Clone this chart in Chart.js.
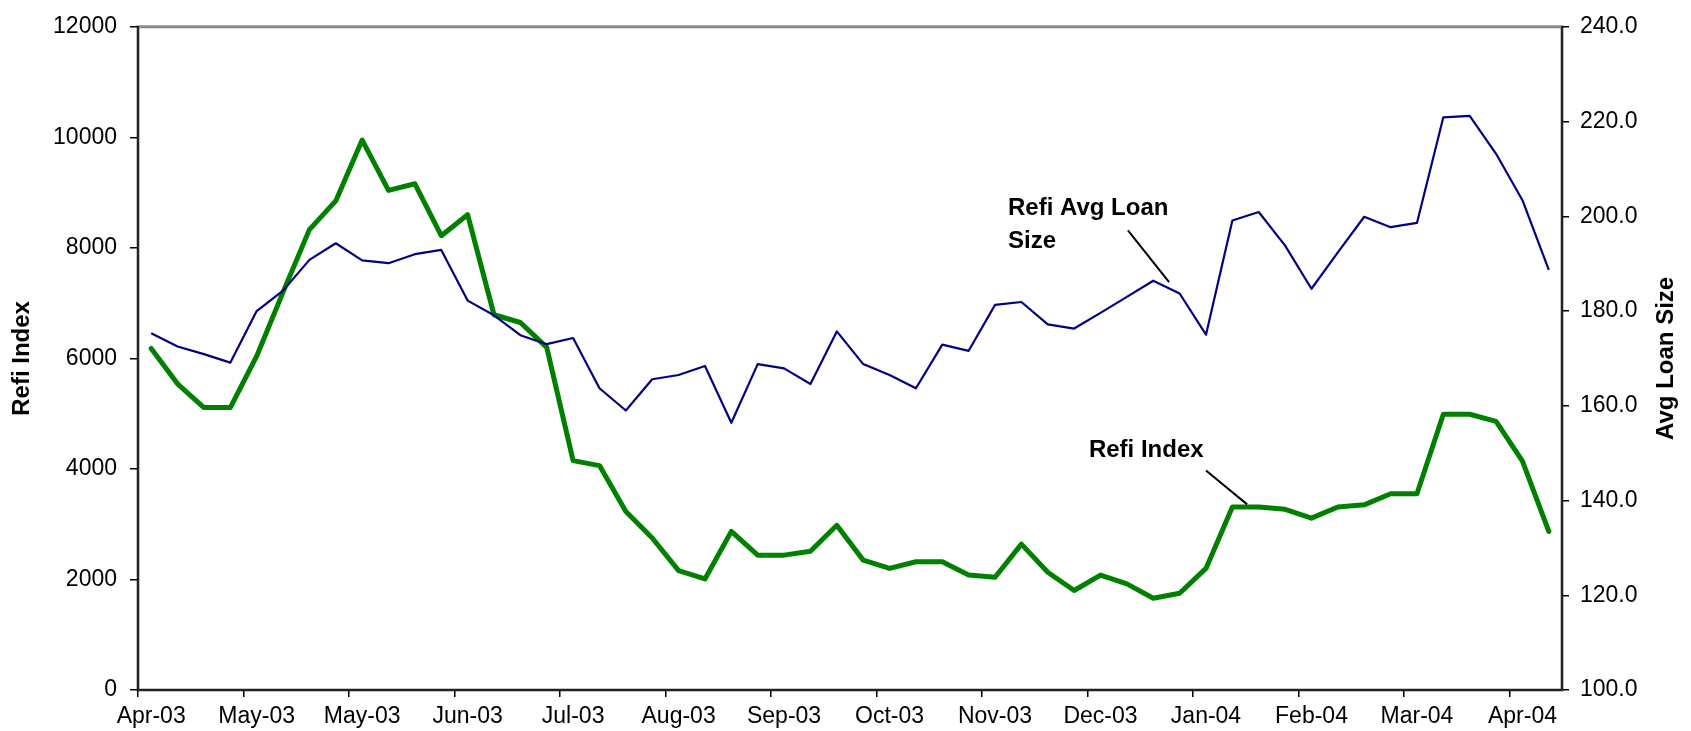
<!DOCTYPE html>
<html>
<head>
<meta charset="utf-8">
<script src="https://cdn.jsdelivr.net/npm/chart.js@4.4.1/dist/chart.umd.min.js"></script>
<style>
html,body{margin:0;padding:0;background:#ffffff;}
#wrap{width:1691px;height:731px;position:relative;}
</style>
</head>
<body>
<div id="wrap"><canvas id="c"></canvas></div>
<script>
// ---- data ----
const categories = [
  '04/04/03','04/11/03','04/18/03','04/25/03',
  '05/02/03','05/09/03','05/16/03','05/23/03','05/30/03',
  '06/06/03','06/13/03','06/20/03','06/27/03',
  '07/04/03','07/11/03','07/18/03','07/25/03',
  '08/01/03','08/08/03','08/15/03','08/22/03','08/29/03',
  '09/05/03','09/12/03','09/19/03','09/26/03',
  '10/03/03','10/10/03','10/17/03','10/24/03','10/31/03',
  '11/07/03','11/14/03','11/21/03','11/28/03',
  '12/05/03','12/12/03','12/19/03','12/26/03',
  '01/02/04','01/09/04','01/16/04','01/23/04','01/30/04',
  '02/06/04','02/13/04','02/20/04','02/27/04',
  '03/05/04','03/12/04','03/19/04','03/26/04',
  '04/02/04','04/09/04'
];
const tickLabels = ['Apr-03','May-03','May-03','Jun-03','Jul-03','Aug-03','Sep-03',
                    'Oct-03','Nov-03','Dec-03','Jan-04','Feb-04','Mar-04','Apr-04'];
const tickEvery = 4;

const refiIndex = [6180,5540,5110,5110,6040,7200,8330,8850,9950,9040,9160,8220,8600,
  6790,6650,6200,4150,4060,3230,2750,2160,2010,2870,2440,2440,2510,2980,2350,2200,
  2320,2320,2080,2040,2640,2130,1800,2080,1920,1660,1750,2200,3310,3310,3270,3110,
  3310,3350,3550,3550,4990,4990,4860,4140,2870];

const avgLoanSize = [175.3,172.5,170.9,169.1,180.0,184.3,190.8,194.3,190.7,190.1,
  192.0,192.9,182.2,179.1,174.9,173.0,174.3,163.7,159.0,165.6,166.5,168.4,156.4,
  168.8,167.9,164.6,175.7,168.8,166.5,163.7,172.9,171.6,181.3,181.9,177.2,176.3,
  179.6,183.0,186.4,183.7,175.0,199.1,200.9,193.8,184.7,192.4,199.9,197.7,198.6,
  220.9,221.2,213.2,203.4,188.7];

const leftAxis = {min:0, max:12000, step:2000};
const rightAxis = {min:100, max:240, step:20};

// ---- style ----
const FONT = "'Liberation Sans', Arial, Helvetica, sans-serif";
const TICK_SIZE = 23;
const TITLE_SIZE = 24;

// annotation placement in data space (x = category index, y = value on axis)
const annotations = [
  {axis:'yR', lines:['Refi Avg Loan','Size'], x:32.49, y:200.2, gap:33,
   leader:[37.04,197.0,38.60,186.1]},
  {axis:'yL', lines:['Refi Index'], x:35.56, y:4221, gap:33,
   leader:[40.0,3970,41.56,3359]}
];

const framePlugin = {
  id:'frame',
  beforeDraw(chart){
    const {ctx, chartArea:a} = chart;
    ctx.save();
    ctx.strokeStyle = '#8a8a8a';
    ctx.lineWidth = 3;
    ctx.strokeRect(a.left, a.top, a.right - a.left, a.bottom - a.top);
    ctx.restore();
  }
};

const annotPlugin = {
  id:'annot',
  afterDraw(chart){
    const {ctx} = chart;
    const xs = chart.scales.x;
    ctx.save();
    ctx.fillStyle = '#000';
    ctx.strokeStyle = '#000';
    ctx.font = 'bold ' + TITLE_SIZE + 'px ' + FONT;
    ctx.textAlign = 'left';
    ctx.textBaseline = 'alphabetic';
    annotations.forEach(an => {
      const ys = chart.scales[an.axis];
      const px = xs.getPixelForValue(an.x);
      const py = ys.getPixelForValue(an.y);
      an.lines.forEach((t, k) => ctx.fillText(t, px, py + k * an.gap));
      ctx.lineWidth = 2;
      ctx.beginPath();
      ctx.moveTo(xs.getPixelForValue(an.leader[0]), ys.getPixelForValue(an.leader[1]));
      ctx.lineTo(xs.getPixelForValue(an.leader[2]), ys.getPixelForValue(an.leader[3]));
      ctx.stroke();
    });
    // right axis title (reads bottom to top)
    const r = chart.scales.yR;
    ctx.translate(r.right - 25, (r.top + r.bottom) / 2);
    ctx.rotate(-Math.PI / 2);
    ctx.textAlign = 'center';
    ctx.textBaseline = 'middle';
    ctx.fillText('Avg Loan Size', 0, 0);
    ctx.restore();
  }
};

const tickFont = {family:FONT, size:TICK_SIZE};

new Chart(document.getElementById('c'), {
  type:'line',
  data:{
    labels:categories,
    datasets:[
      {label:'Refi Avg Loan Size', data:avgLoanSize, yAxisID:'yR',
       borderColor:'#000080', borderWidth:2.2, pointRadius:0, tension:0,
       fill:false, borderJoinStyle:'round'},
      {label:'Refi Index', data:refiIndex, yAxisID:'yL',
       borderColor:'#008000', borderWidth:5, pointRadius:0, tension:0,
       fill:false, borderJoinStyle:'round', borderCapStyle:'round'}
    ]
  },
  options:{
    responsive:true,
    maintainAspectRatio:false,
    animation:false,
    devicePixelRatio:1,
    layout:{padding:{top:22, left:0, right:0, bottom:0}},
    plugins:{legend:{display:false}, tooltip:{enabled:false}},
    scales:{
      x:{
        type:'category',
        offset:true,
        grid:{offset:true, drawOnChartArea:false, tickLength:7, lineWidth:1.5,
              color:c => (c.index % tickEvery === 0) ? '#000' : 'rgba(0,0,0,0)'},
        border:{color:'#222', width:2},
        ticks:{autoSkip:false, maxRotation:0, minRotation:0, padding:6,
               color:'#000', font:tickFont,
               callback:(v, i) => (i % tickEvery === 0) ? tickLabels[i / tickEvery] : ''},
        afterFit:s => { s.height = 41; }
      },
      yL:{
        position:'left',
        min:leftAxis.min, max:leftAxis.max,
        grid:{drawOnChartArea:false, tickLength:8, color:'#000', lineWidth:1.5},
        border:{color:'#222', width:2},
        ticks:{stepSize:leftAxis.step, padding:13, color:'#000', font:tickFont,
               callback:v => String(v)},
        title:{display:true, text:'Refi Index', color:'#000',
               font:{family:FONT, size:TITLE_SIZE, weight:'bold'},
               padding:{top:8, bottom:0}},
        afterFit:s => { s.width = 138; }
      },
      yR:{
        position:'right',
        min:rightAxis.min, max:rightAxis.max,
        grid:{drawOnChartArea:false, tickLength:7, color:'#000', lineWidth:1.5},
        border:{color:'#222', width:2},
        ticks:{stepSize:rightAxis.step, padding:11, color:'#000', font:tickFont,
               callback:v => Number(v).toFixed(1)},
        afterFit:s => { s.width = 129; }
      }
    }
  },
  plugins:[framePlugin, annotPlugin]
});
</script>
</body>
</html>
